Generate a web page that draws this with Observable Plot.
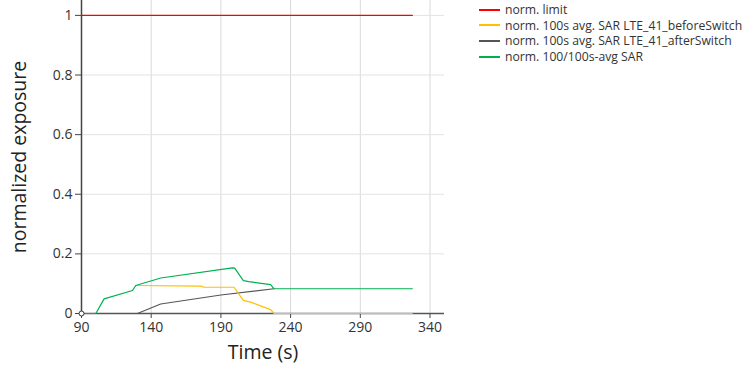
<!DOCTYPE html>
<html>
<head>
<meta charset="utf-8">
<script src="https://cdn.jsdelivr.net/npm/d3@7"></script>
<script src="https://cdn.jsdelivr.net/npm/@observablehq/plot@0.6"></script>
<style>
  body { margin: 0; background: #fff; }
  #wrap { position: relative; width: 752px; height: 374px; font-family: "Open Sans", sans-serif; }
  #legend { position: absolute; left: 479px; top: 2px; font-size: 12.2px; color: #333; line-height: 15.6px; }
  #legend .row { display: flex; align-items: center; white-space: nowrap; }
  #legend .sw { width: 21px; height: 2px; margin-right: 5px; }
</style>
</head>
<body>
<div id="wrap"><div id="legend"></div></div>
<script>
const xTicks = [90, 140, 190, 240, 290, 340];
const yTicks = [0, 0.2, 0.4, 0.6, 0.8, 1];

const seriesNames = [
  "norm. limit",
  "norm. 100s avg. SAR LTE_41_beforeSwitch",
  "norm. 100s avg. SAR LTE_41_afterSwitch",
  "norm. 100/100s-avg SAR"
];
const seriesColors = ["#ff0000", "#ffc000", "#555555", "#00b050"];

const limitT = [90, 327.3];
const limitY = [1, 1];
const beforeT = [128.9, 175.6, 177.9, 199.4, 206.1, 211.4, 225.7, 228.1, 327.3];
const beforeY = [0.094, 0.092, 0.088, 0.088, 0.044, 0.038, 0.013, 0, 0];
const afterT = [130.1, 146.8, 190, 228.1];
const afterY = [0, 0.032, 0.062, 0.083];
const avgT = [90, 100.3, 106.2, 126.6, 128.9, 146.8, 198.2, 199.9, 206.1, 210.1, 225.7, 228.1, 327.3];
const avgY = [0, 0, 0.049, 0.077, 0.094, 0.119, 0.153, 0.152, 0.110, 0.107, 0.097, 0.083, 0.083];

const mk = (ts, ys) => ts.map((t, i) => ({t, v: ys[i]}));
const limit = mk(limitT, limitY);
const before = mk(beforeT, beforeY);
const after = mk(afterT, afterY);
const avg = mk(avgT, avgY);

const chart = Plot.plot({
  width: 752,
  height: 374,
  marginLeft: 81,
  marginRight: 308,
  marginTop: 0,
  marginBottom: 61,
  style: {fontFamily: "Open Sans, sans-serif", fontSize: "13px", color: "#333", background: "transparent"},
  x: {domain: [90, 350.4]},
  y: {domain: [0, 1.05]},
  marks: [
    Plot.gridX(xTicks, {stroke: "#d9d9d9", strokeOpacity: 1}),
    Plot.gridY(yTicks, {stroke: "#e3e3e3", strokeOpacity: 1}),
    Plot.axisX(xTicks, {tickSize: 5, tickPadding: 4, label: null, fontSize: 14, stroke: "#444", fill: "#333", tickFormat: d => String(d)}),
    Plot.axisY(yTicks, {tickSize: 6, tickPadding: 3, label: null, fontSize: 14, stroke: "#444", fill: "#333", tickFormat: d => String(d)}),
    Plot.ruleX([90], {stroke: "#444", strokeWidth: 1.5}),
    Plot.ruleY([0], {stroke: "#555", strokeWidth: 1.5}),
    Plot.line(limit, {x: "t", y: "v", stroke: seriesColors[0], strokeWidth: 1.3}),
    Plot.line(after, {x: "t", y: "v", stroke: seriesColors[2], strokeWidth: 1.1}),
    Plot.line(before, {x: "t", y: "v", stroke: seriesColors[1], strokeWidth: 1.2}),
    Plot.line(avg, {x: "t", y: "v", stroke: seriesColors[3], strokeWidth: 1.2}),
    Plot.dot([{t: 90, v: 0}], {x: "t", y: "v", r: 2.5, fill: "#fff", stroke: "#333", strokeWidth: 1}),
    Plot.text(["Time (s)"], {frameAnchor: "bottom", dy: 45, fontSize: 19.5, fill: "#222"}),
    Plot.text(["normalized exposure"], {frameAnchor: "left", textAnchor: "middle", rotate: -90, dx: -62, dy: 0, fontSize: 19.5, fill: "#222"})
  ]
});
document.getElementById("wrap").prepend(chart);
const legend = d3.select("#legend");
seriesNames.forEach((n, i) => {
  const r = legend.append("div").attr("class", "row");
  r.append("div").attr("class", "sw").style("background", seriesColors[i]);
  r.append("span").text(n);
});
</script>
</body>
</html>
